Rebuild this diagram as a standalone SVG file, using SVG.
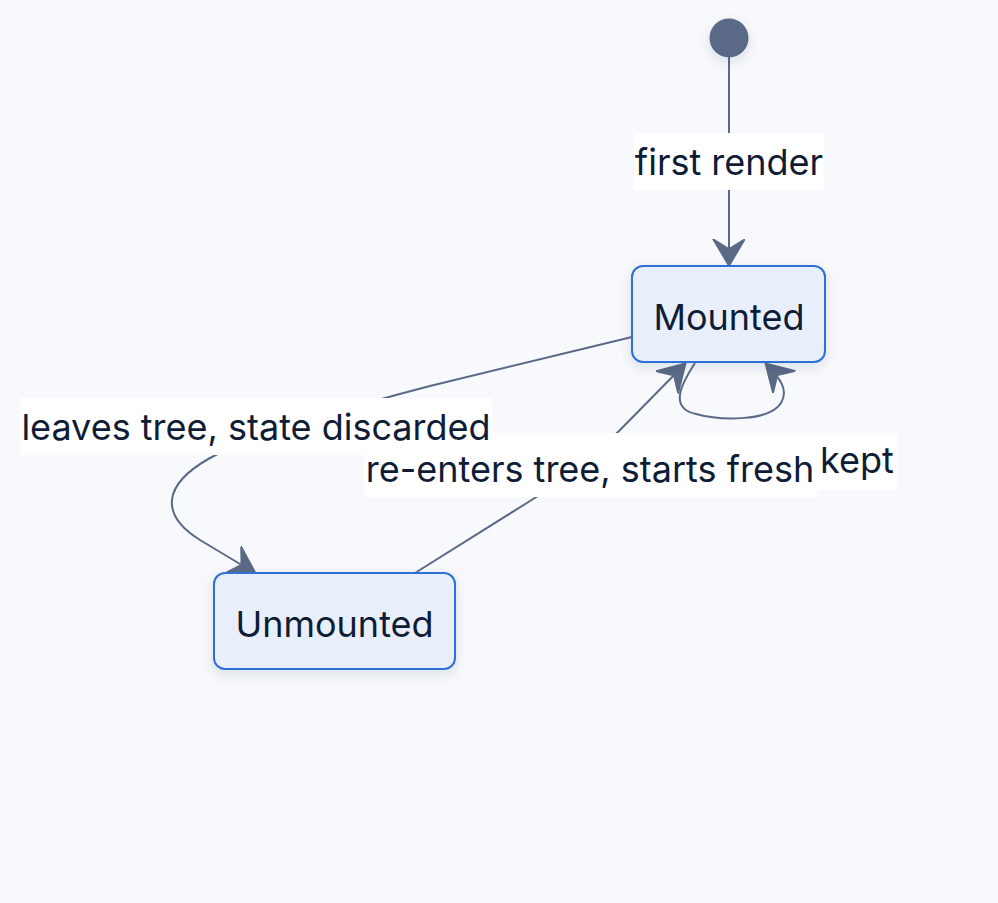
<svg xmlns="http://www.w3.org/2000/svg" width="998" height="903" viewBox="0 0 998 903">
  <defs>
    <style>
      .edge { fill: none; stroke: #5a6a86; stroke-width: 2; }
      .node rect { fill: #e9effa; stroke: #2f6fd8; stroke-width: 2; }
      .txt { font-family: Inter, "Noto Sans", "Liberation Sans", sans-serif; font-size: 36px; fill: #0f1c36; text-anchor: middle; }
      .lblbg { fill: #ffffff; }
    </style>
    <filter id="shadow" x="-30%" y="-30%" width="160%" height="170%">
      <feDropShadow dx="0" dy="4" stdDeviation="6" flood-color="#1e2a44" flood-opacity="0.12"/>
    </filter>
    <marker id="arrow" markerUnits="userSpaceOnUse" markerWidth="30" markerHeight="34" refX="26" refY="16" orient="auto">
      <path d="M0,0 L27,16 L0,32 L10,16 z" fill="#5a6a86" stroke="#5a6a86" stroke-width="1.5" stroke-linejoin="round"/>
    </marker>
  </defs>
  <rect x="0" y="0" width="998" height="903" fill="#f7f9fc"/>

  <g id="connectors">
    <path class="edge" d="M729,57 L729,265" marker-end="url(#arrow)"/>
    <path class="edge" d="M632,337 L430,386 C330,412 250,436 210,458 C162,485 160,515 200,540 L255,573" marker-end="url(#arrow)"/>
    <path class="edge" d="M415,573 L530,501 C570,476 595,455 620,430 L685,364" marker-end="url(#arrow)"/>
    <path class="edge" d="M695,363 C682,383 668,408 696,414 C722,421 770,421 781,403 C789,390 780,378 766,364" marker-end="url(#arrow)"/>
  </g>

  <g id="labels">
    <g id="label-first-render">
      <rect class="lblbg" x="634" y="133" width="190" height="57"/>
      <text class="txt" x="729" y="175">first render</text>
    </g>
    <g id="label-re-enters">
      <rect class="lblbg" x="364" y="433" width="453" height="64"/>
      <text class="txt" x="590" y="482">re-enters tree, starts fresh</text>
    </g>
    <g id="label-leaves">
      <rect class="lblbg" x="20" y="398" width="472" height="57"/>
      <text class="txt" x="256" y="440">leaves tree, state discarded</text>
    </g>
    <g id="label-kept">
      <rect class="lblbg" x="817" y="433" width="80" height="57"/>
      <text class="txt" x="857" y="473">kept</text>
    </g>
  </g>

  <g id="start">
    <circle cx="729" cy="38" r="19.5" fill="#5a6a86" filter="url(#shadow)"/>
  </g>
  <g id="mounted" class="node">
    <rect x="632" y="266" width="193" height="96" rx="11" filter="url(#shadow)"/>
    <text class="txt" x="729" y="330">Mounted</text>
  </g>
  <g id="unmounted" class="node">
    <rect x="214" y="573" width="241" height="96" rx="11" filter="url(#shadow)"/>
    <text class="txt" x="334.5" y="637">Unmounted</text>
  </g>
</svg>
